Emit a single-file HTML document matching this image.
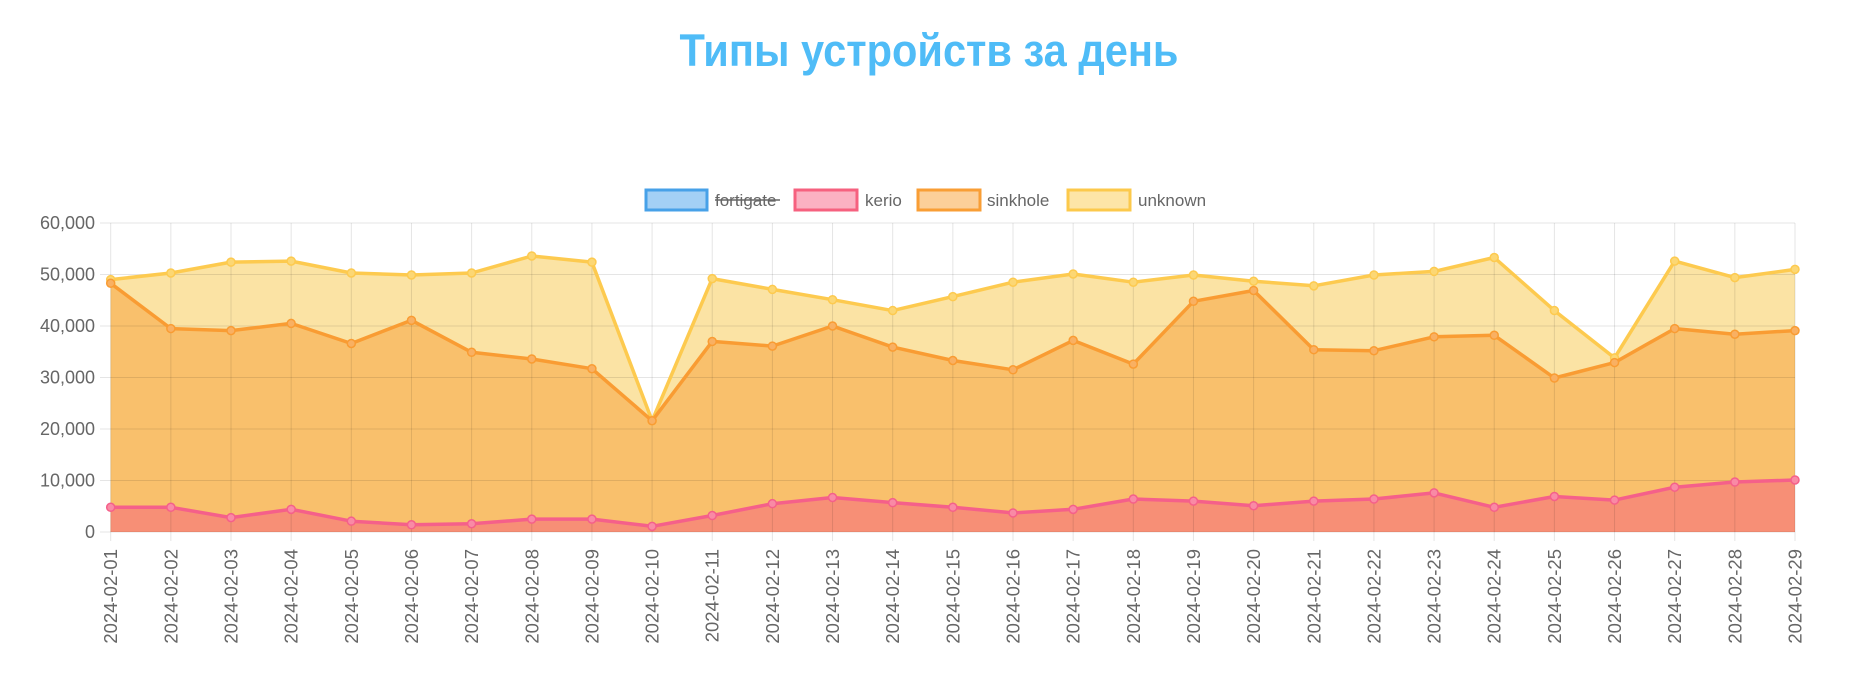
<!DOCTYPE html>
<html><head><meta charset="utf-8"><style>
html,body{margin:0;padding:0;background:#fff;}
svg{display:block;font-family:"Liberation Sans",sans-serif;}
</style></head><body>
<svg id="c" width="1857" height="675" xmlns="http://www.w3.org/2000/svg">
<text x="929" y="66" text-anchor="middle" font-size="45" font-weight="bold" fill="#4fbcf7" textLength="499" lengthAdjust="spacingAndGlyphs" font-family="'Liberation Sans','Noto Sans CJK SC',sans-serif">Типы устройств за день</text>
<g font-size="17" fill="#666">
<rect x="646" y="190" width="61" height="20" fill="#a3d0f5" stroke="#47a1e8" stroke-width="3"/>
<text x="715" y="206">fortigate</text>
<line x1="715" y1="200" x2="780" y2="200" stroke="#666" stroke-width="1.5"/>
<rect x="795" y="190" width="62" height="20" fill="#fbb1c2" stroke="#f6617f" stroke-width="3"/>
<text x="865" y="206">kerio</text>
<rect x="918" y="190" width="62" height="20" fill="#fccf99" stroke="#f99e35" stroke-width="3"/>
<text x="987" y="206">sinkhole</text>
<rect x="1068" y="190" width="62" height="20" fill="#fde5a7" stroke="#fcc94b" stroke-width="3"/>
<text x="1138" y="206">unknown</text>
</g>
<g id="plot"></g>
</svg>
<script>
var U=[49.0,50.3,52.4,52.6,50.3,49.9,50.3,53.6,52.4,21.6,49.2,47.1,45.1,43.0,45.7,48.5,50.1,48.5,49.9,48.7,47.8,49.9,50.6,53.3,43.0,33.8,52.6,49.4,51.0];
var S=[48.3,39.5,39.1,40.5,36.6,41.1,34.9,33.6,31.7,21.6,37.0,36.1,40.0,35.9,33.3,31.5,37.2,32.6,44.8,46.9,35.4,35.2,37.9,38.2,29.9,32.9,39.5,38.4,39.1];
var K=[4.8,4.8,2.8,4.4,2.1,1.4,1.6,2.5,2.5,1.1,3.2,5.5,6.7,5.7,4.8,3.7,4.4,6.4,6.0,5.1,6.0,6.4,7.6,4.8,6.9,6.2,8.7,9.7,10.1];
var x0=110.7,x1=1795,y0=532,yt=223,dx=(x1-x0)/28;
function X(i){return x0+i*dx}function Y(v){return y0-(y0-yt)*v/60}
var h='';
function pts(a){return a.map(function(v,i){return X(i).toFixed(1)+','+Y(v).toFixed(1)}).join(' ')}
function area(a,c){return '<polygon points="'+X(0)+','+y0+' '+pts(a)+' '+X(28)+','+y0+'" fill="'+c+'"/>'}
h+=area(U,'#fbe3a4')+area(S,'#f9c06c')+area(K,'#f78f76');
for(var g=0;g<=6;g++){var y=Y(g*10);h+='<line x1="100" x2="'+x1+'" y1="'+y+'" y2="'+y+'" stroke="rgba(0,0,0,0.1)" stroke-width="1"/>';
h+='<text x="95" y="'+(y+6)+'" text-anchor="end" font-size="18" fill="#666">'+(g==0?'0':g*10+',000')+'</text>';}
for(var i=0;i<29;i++){var x=X(i);h+='<line x1="'+x+'" x2="'+x+'" y1="'+yt+'" y2="'+(y0+9)+'" stroke="rgba(0,0,0,0.1)"/>';
var lab='2024-02-'+(i<9?'0':'')+(i+1);h+='<text transform="translate('+(x+6.5)+',549) rotate(-90)" text-anchor="end" font-size="18.5" fill="#666">'+lab+'</text>';}
function line(a,c,f){var s='<polyline points="'+pts(a)+'" fill="none" stroke="'+c+'" stroke-width="3.5" stroke-linejoin="round"/>';
a.forEach(function(v,i){s+='<circle cx="'+X(i)+'" cy="'+Y(v)+'" r="4" fill="'+f+'" stroke="'+c+'" stroke-width="1.5"/>'});return s}
h+=line(U,'#fdca4f','#fcd774')+line(S,'#f99c33','#f9b062')+line(K,'#f5608a','#f98aa5');
document.getElementById('plot').innerHTML=h;
</script>
</body></html>
